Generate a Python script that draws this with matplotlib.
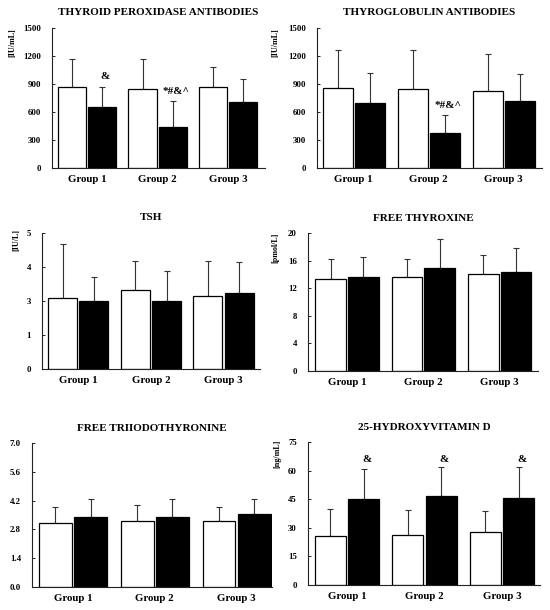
import matplotlib
matplotlib.use("Agg")
import matplotlib.pyplot as plt
import numpy as np

groups = ["Group 1", "Group 2", "Group 3"]

tpo_white = [872, 850, 865]
tpo_white_top = [1166, 1166, 1087]
tpo_black = [650, 441, 710]
tpo_black_top = [865, 721, 958]

tg_white = [861, 843, 829]
tg_white_top = [1267, 1260, 1220]
tg_black = [693, 380, 721]
tg_black_top = [1023, 567, 1008]

tsh_white = [2.60, 2.89, 2.67]
tsh_white_top = [4.61, 3.98, 3.98]
tsh_black = [2.49, 2.49, 2.79]
tsh_black_top = [3.38, 3.59, 3.92]
tsh_ticklabels = ["0", "1", "3", "4", "5"]

ft4_white = [13.4, 13.7, 14.1]
ft4_white_top = [16.3, 16.2, 16.9]
ft4_black = [13.7, 15.0, 14.4]
ft4_black_top = [16.6, 19.1, 17.8]

ft3_white = [3.10, 3.21, 3.21]
ft3_white_top = [3.90, 4.01, 3.90]
ft3_black = [3.39, 3.39, 3.54]
ft3_black_top = [4.30, 4.30, 4.30]

vd_white = [25.8, 26.5, 27.6]
vd_white_top = [39.9, 39.2, 39.0]
vd_black = [45.2, 46.9, 45.7]
vd_black_top = [60.7, 61.9, 61.9]

plt.rcParams['font.family'] = ['Liberation Serif', 'DejaVu Serif']
plt.rcParams['font.weight'] = 'bold'

W, H = 550, 610
fig = plt.figure(figsize=(5.5, 6.1), dpi=100)

panels = [
    dict(rect=[0.0945, 0.7246, 0.387, 0.2295], title="THYROID PEROXIDASE ANTIBODIES",
         w=tpo_white, wt=tpo_white_top, b=tpo_black, bt=tpo_black_top,
         ylim=1500, ticks=[0, 300, 600, 900, 1200, 1500], labels=None, unit="[IU/mL]",
         upos=(12, 28), ann=[(0, 933, "&"), (1, 771, "*#&^")], xlim=(-0.5, 2.52)),
    dict(rect=[0.5764, 0.7246, 0.409, 0.2295], title="THYROGLOBULIN ANTIBODIES",
         w=tg_white, wt=tg_white_top, b=tg_black, bt=tg_black_top,
         ylim=1500, ticks=[0, 300, 600, 900, 1200, 1500], labels=None, unit="[IU/mL]",
         upos=(275, 28), ann=[(1, 618, "*#&^")], xlim=(-0.49, 2.51)),
    dict(rect=[0.0764, 0.3951, 0.396, 0.223], title="TSH",
         w=tsh_white, wt=tsh_white_top, b=tsh_black, bt=tsh_black_top,
         ylim=5, ticks=[0, 1.25, 2.5, 3.75, 5], labels=tsh_ticklabels, unit="[IU/L]",
         upos=(16, 229), ann=[], xlim=(-0.5, 2.5)),
    dict(rect=[0.56, 0.3918, 0.418, 0.226], title="FREE THYROXINE",
         w=ft4_white, wt=ft4_white_top, b=ft4_black, bt=ft4_black_top,
         ylim=20, ticks=[0, 4, 8, 12, 16, 20], labels=None, unit="[pmol/L]",
         upos=(275, 233), ann=[], xlim=(-0.51, 2.5)),
    dict(rect=[0.0582, 0.0377, 0.436, 0.236], title="FREE TRIIODOTHYRONINE",
         w=ft3_white, wt=ft3_white_top, b=ft3_black, bt=ft3_black_top,
         ylim=7, ticks=[0, 1.4, 2.8, 4.2, 5.6, 7.0],
         labels=["0.0", "1.4", "2.8", "4.2", "5.6", "7.0"], unit=None,
         upos=None, ann=[], xlim=(-0.5, 2.43)),
    dict(rect=[0.56, 0.041, 0.422, 0.234], title="25-HYDROXYVITAMIN D",
         w=vd_white, wt=vd_white_top, b=vd_black, bt=vd_black_top,
         ylim=75, ticks=[0, 15, 30, 45, 60, 75], labels=None, unit="[ng/mL]",
         upos=(277, 440), ann=[(0, 63.5, "&"), (1, 63.5, "&"), (2, 63.5, "&")],
         xlim=(-0.5, 2.49)),
]

x = np.arange(len(groups))
bw = 0.40
off = 0.215

for p in panels:
    ax = fig.add_axes(p["rect"])
    w = np.array(p["w"]); b = np.array(p["b"])
    wt = np.array(p["wt"]); bt = np.array(p["bt"])
    ax.bar(x - off, w, bw, color="white", edgecolor="black", linewidth=0.9, zorder=2)
    ax.bar(x + off, b, bw, color="black", edgecolor="black", linewidth=0.9, zorder=2)
    ax.errorbar(x - off, w, yerr=[np.zeros(3), wt - w], fmt="none", ecolor="#333333",
                elinewidth=0.8, capsize=2.2, capthick=0.8, zorder=1)
    ax.errorbar(x + off, b, yerr=[np.zeros(3), bt - b], fmt="none", ecolor="#333333",
                elinewidth=0.8, capsize=2.2, capthick=0.8, zorder=1)
    for gi, yv, txt in p["ann"]:
        ax.text(x[gi] + off + 0.04, yv, txt, ha="center", va="bottom", fontsize=8,
                fontweight="bold")
    ax.set_ylim(0, p["ylim"])
    ax.set_xlim(*p["xlim"])
    ax.set_yticks(p["ticks"])
    if p["labels"] is not None:
        ax.set_yticklabels(p["labels"])
    ax.set_xticks(x)
    ax.set_xticklabels(groups)
    ax.tick_params(axis="x", length=0, labelsize=7.8, pad=5)
    ax.tick_params(axis="y", direction="in", length=2, width=0.6, labelsize=6.3, pad=8)
    for lab in ax.get_xticklabels() + ax.get_yticklabels():
        lab.set_fontweight("bold")
    for s in ["top", "right"]:
        ax.spines[s].set_visible(False)
    for s in ["left", "bottom"]:
        ax.spines[s].set_linewidth(0.8)
        ax.spines[s].set_color("#222222")
    ax.set_title(p["title"], fontsize=8, fontweight="bold", pad=9)
    if p["unit"]:
        ux, uy = p["upos"]
        fig.text(ux / W, 1 - uy / H, p["unit"], rotation=90, ha="center", va="top",
                 fontsize=5.8, fontweight="bold")

fig.savefig("out.png", dpi=100)
